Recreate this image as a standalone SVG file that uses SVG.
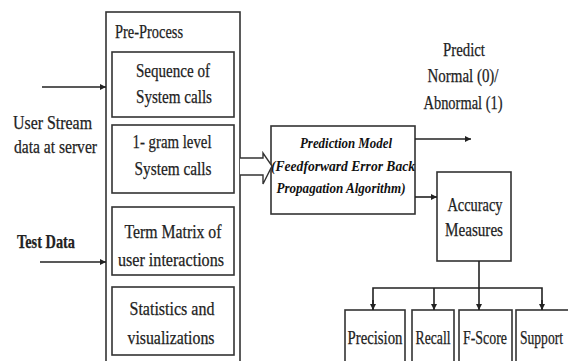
<svg xmlns="http://www.w3.org/2000/svg" width="568" height="361" viewBox="0 0 568 361">
<defs>
<style>
.bx{fill:#fff;stroke:#333;stroke-width:1.6}
.ln{fill:none;stroke:#222;stroke-width:1.6}
.t{font-family:"Liberation Serif","DejaVu Serif",serif;font-size:19px;fill:#222;stroke:#222;stroke-width:0.25;text-anchor:middle}
.tl{font-family:"Liberation Serif","DejaVu Serif",serif;font-size:19px;fill:#222;stroke:#222;stroke-width:0.25}
.ti{font-family:"Liberation Serif","DejaVu Serif",serif;font-size:15px;font-style:italic;font-weight:bold;fill:#111;text-anchor:middle}
</style>
<marker id="ah" viewBox="0 0 10 10" refX="10" refY="5" markerWidth="6" markerHeight="6" orient="auto" markerUnits="userSpaceOnUse">
<path d="M0,0 L10,5 L0,10 z" fill="#222"/>
</marker>
</defs>
<rect width="568" height="361" fill="#fff"/>

<g id="preprocess">
<rect class="bx" x="106" y="12" width="134" height="360"/>
<text class="tl" x="115" y="38" font-size="15" textLength="68" lengthAdjust="spacingAndGlyphs">Pre-Process</text>
</g>
<g id="seq">
<rect class="bx" x="112" y="52" width="122" height="65"/>
<text class="t" x="173" y="77" textLength="74" lengthAdjust="spacingAndGlyphs">Sequence of</text>
<text class="t" x="174" y="103" textLength="76" lengthAdjust="spacingAndGlyphs">System calls</text>
</g>
<g id="gram">
<rect class="bx" x="112" y="125" width="122" height="68"/>
<text class="t" x="172" y="148" textLength="79" lengthAdjust="spacingAndGlyphs">1- gram level</text>
<text class="t" x="173" y="175" textLength="77" lengthAdjust="spacingAndGlyphs">System calls</text>
</g>
<g id="term">
<rect class="bx" x="112" y="207" width="122" height="68"/>
<text class="t" x="173" y="238" textLength="97" lengthAdjust="spacingAndGlyphs">Term Matrix of</text>
<text class="t" x="171" y="266" textLength="106" lengthAdjust="spacingAndGlyphs">user interactions</text>
</g>
<g id="stats">
<rect class="bx" x="112" y="287" width="122" height="68"/>
<text class="t" x="172" y="315" textLength="85" lengthAdjust="spacingAndGlyphs">Statistics and</text>
<text class="t" x="171" y="344" textLength="87" lengthAdjust="spacingAndGlyphs">visualizations</text>
</g>

<g id="userstream">
<text class="tl" x="13" y="129" textLength="79" lengthAdjust="spacingAndGlyphs">User Stream</text>
<text class="tl" x="14" y="153" textLength="83" lengthAdjust="spacingAndGlyphs">data at server</text>
</g>
<g id="testdata">
<text class="tl" x="17" y="248" font-weight="bold" font-size="16" textLength="58" lengthAdjust="spacingAndGlyphs">Test Data</text>
</g>

<g id="model">
<rect class="bx" x="271" y="126" width="144" height="88"/>
<text class="ti" x="346" y="148" textLength="92" lengthAdjust="spacingAndGlyphs">Prediction Model</text>
<text class="ti" x="343" y="171" textLength="144" lengthAdjust="spacingAndGlyphs">(Feedforward Error Back</text>
<text class="ti" x="341" y="193" textLength="129" lengthAdjust="spacingAndGlyphs">Propagation Algorithm)</text>
</g>

<g id="predict">
<text class="t" x="464" y="56" textLength="42" lengthAdjust="spacingAndGlyphs">Predict</text>
<text class="t" x="463" y="82" textLength="71" lengthAdjust="spacingAndGlyphs">Normal (0)/</text>
<text class="t" x="463" y="109" textLength="79" lengthAdjust="spacingAndGlyphs">Abnormal (1)</text>
</g>

<g id="accuracy">
<rect class="bx" x="437" y="172" width="74" height="89"/>
<text class="t" x="475" y="211" textLength="55" lengthAdjust="spacingAndGlyphs">Accuracy</text>
<text class="t" x="474" y="236" textLength="58" lengthAdjust="spacingAndGlyphs">Measures</text>
</g>

<g id="precision">
<rect class="bx" x="345" y="310" width="60" height="60"/>
<text class="t" x="375" y="344" textLength="55" lengthAdjust="spacingAndGlyphs">Precision</text>
</g>
<g id="recall">
<rect class="bx" x="412" y="310" width="42" height="60"/>
<text class="t" x="433" y="344" textLength="35" lengthAdjust="spacingAndGlyphs">Recall</text>
</g>
<g id="fscore">
<rect class="bx" x="459" y="310" width="53" height="60"/>
<text class="t" x="485" y="344" textLength="44" lengthAdjust="spacingAndGlyphs">F-Score</text>
</g>
<g id="support">
<rect class="bx" x="516" y="310" width="70" height="60"/>
<text class="tl" x="520" y="344" textLength="43" lengthAdjust="spacingAndGlyphs">Support</text>
</g>

<g id="connectors">
<line class="ln" x1="42" y1="87" x2="106" y2="87" marker-end="url(#ah)"/>
<line class="ln" x1="40" y1="262" x2="106" y2="262" marker-end="url(#ah)"/>
<path fill="#fff" stroke="#333" stroke-width="1.4" d="M240,158 L263,158 L263,153 L272,166 L263,184 L263,175 L240,175"/>
<line class="ln" x1="415" y1="139" x2="471" y2="139" marker-end="url(#ah)"/>
<line class="ln" x1="415" y1="197" x2="437" y2="197" marker-end="url(#ah)"/>
<line class="ln" x1="479" y1="261" x2="479" y2="310" marker-end="url(#ah)"/>
<path class="ln" d="M373,310 L373,288 L542,288 L542,310"/>
<line class="ln" x1="373" y1="300" x2="373" y2="310" marker-end="url(#ah)"/>
<line class="ln" x1="542" y1="300" x2="542" y2="310" marker-end="url(#ah)"/>
<line class="ln" x1="434" y1="288" x2="434" y2="310" marker-end="url(#ah)"/>
</g>
</svg>
